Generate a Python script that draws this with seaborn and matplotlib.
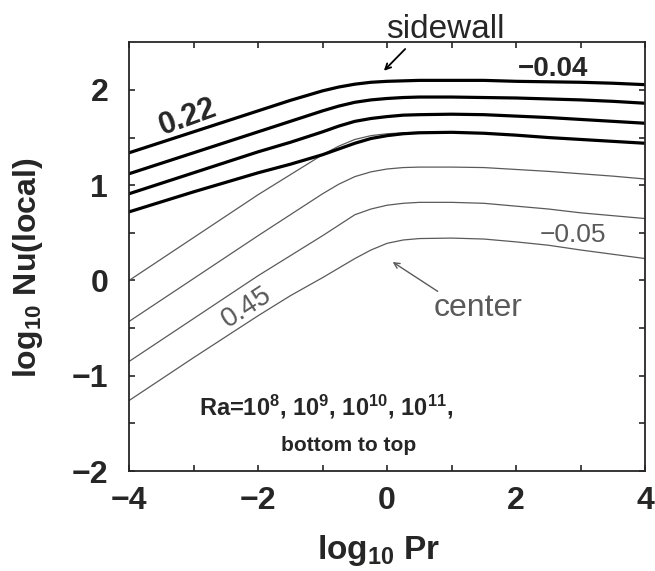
import numpy as np
import pandas as pd
import seaborn as sns
import matplotlib
matplotlib.use("Agg")
import matplotlib.pyplot as plt

# log10 Pr sample points
log_pr = [-4, -3, -2, -1.5, -1, -0.75, -0.5, -0.25, 0, 0.25, 0.5, 1, 1.5, 2, 2.5, 3, 3.5, 4]

# sidewall Nu, Ra = 1e8 .. 1e11 (bottom to top)
side_1e8 = [0.72, 0.93, 1.13, 1.22, 1.32, 1.38, 1.44, 1.49, 1.52, 1.54, 1.55, 1.555, 1.545, 1.525, 1.50, 1.48, 1.46, 1.44]
side_1e9 = [0.91, 1.13, 1.35, 1.45, 1.56, 1.62, 1.67, 1.70, 1.72, 1.735, 1.74, 1.745, 1.74, 1.725, 1.71, 1.69, 1.67, 1.65]
side_1e10 = [1.12, 1.34, 1.56, 1.67, 1.78, 1.83, 1.87, 1.895, 1.91, 1.92, 1.925, 1.925, 1.92, 1.915, 1.905, 1.895, 1.88, 1.86]
side_1e11 = [1.34, 1.56, 1.78, 1.89, 1.99, 2.03, 2.06, 2.08, 2.09, 2.095, 2.10, 2.10, 2.10, 2.09, 2.085, 2.08, 2.07, 2.055]

# center Nu
cent_1e8 = [-1.26, -0.81, -0.37, -0.16, 0.03, 0.13, 0.23, 0.32, 0.39, 0.425, 0.44, 0.445, 0.435, 0.405, 0.37, 0.32, 0.275, 0.23]
cent_1e9 = [-0.85, -0.40, 0.05, 0.26, 0.47, 0.58, 0.69, 0.75, 0.79, 0.81, 0.82, 0.82, 0.81, 0.78, 0.75, 0.71, 0.68, 0.65]
cent_1e10 = [-0.43, 0.02, 0.47, 0.69, 0.91, 1.01, 1.09, 1.14, 1.17, 1.185, 1.19, 1.19, 1.185, 1.165, 1.145, 1.12, 1.095, 1.065]
cent_1e11 = [0.0, 0.45, 0.90, 1.11, 1.32, 1.41, 1.48, 1.52, 1.54, 1.55, 1.555, 1.555, 1.545, 1.525, 1.50, 1.48, 1.46, 1.44]

xtick_vals = [-4, -3, -2, -1, 0, 1, 2, 3, 4]
xtick_labels = ['\u22124', '', '\u22122', '', '0', '', '2', '', '4']
ytick_vals = [-2, -1.5, -1, -0.5, 0, 0.5, 1, 1.5, 2]
ytick_labels = ['\u22122', '', '\u22121', '', '0', '', '1', '', '2']

sns.set_style("ticks")
plt.rcParams['font.family'] = ['Liberation Sans', 'DejaVu Sans']
plt.rcParams['mathtext.fontset'] = 'custom'
plt.rcParams['mathtext.rm'] = 'Liberation Sans'
plt.rcParams['mathtext.bf'] = 'Liberation Sans:bold'
plt.rcParams['mathtext.default'] = 'bf'

fig = plt.figure(figsize=(6.55, 5.71), dpi=100)
ax = fig.add_axes([0.197, 0.175, 0.788, 0.751])

gray = '#5a5a5a'
for ys in [cent_1e8, cent_1e9, cent_1e10, cent_1e11]:
    sns.lineplot(x=log_pr, y=ys, color=gray, lw=0.9, ax=ax)
for ys in [side_1e8, side_1e9, side_1e10, side_1e11]:
    sns.lineplot(x=log_pr, y=ys, color='black', lw=2.3, ax=ax)

ax.set_xlim(-4, 4)
ax.set_ylim(-2, 2.5)
ax.set_xticks(xtick_vals)
ax.set_xticklabels(xtick_labels, fontsize=23, fontweight='bold')
ax.set_yticks(ytick_vals)
ax.set_yticklabels(ytick_labels, fontsize=23, fontweight='bold')
ax.tick_params(direction='in', length=4, width=1.2, top=True, right=True)
ax.tick_params(axis='x', pad=11)
ax.tick_params(axis='y', pad=15)
for s in ax.spines.values():
    s.set_linewidth(1.3)
    s.set_visible(True)

ax.set_xlabel(r'log$_{10}$ Pr', fontsize=24, fontweight='bold')
ax.xaxis.label.set_verticalalignment('center')
ax.xaxis.set_label_coords(0.484, -0.186)
ax.set_ylabel(r'log$_{10}$ Nu(local)', fontsize=23, fontweight='bold')
ax.yaxis.label.set_verticalalignment('center')
ax.yaxis.set_label_coords(-0.196, 0.473)

ax.text(-3.09, 1.71, '0.22', fontsize=22, fontweight='bold', rotation=20,
        ha='center', va='center')
ax.text(2.57, 2.15, '\u22120.04', fontsize=20, fontweight='bold', ha='center', va='baseline')
ax.text(-2.17, -0.28, '0.45', fontsize=20, color=gray, rotation=33,
        ha='center', va='center')
ax.text(2.88, 0.40, '\u22120.05', fontsize=19, color=gray, ha='center', va='baseline')

ax.text(0.9, 2.545, 'sidewall', fontsize=24, ha='center', va='baseline', clip_on=False)
ax.annotate('', xy=(-0.08, 2.18), xytext=(0.31, 2.45), annotation_clip=False,
            arrowprops=dict(arrowstyle='->', color='black', lw=1.3))
ax.text(1.41, -0.29, 'center', fontsize=23, color=gray, ha='center', va='center')
ax.annotate('', xy=(0.05, 0.21), xytext=(0.82, -0.13),
            arrowprops=dict(arrowstyle='->', color=gray, lw=1.0))

ax.text(-0.95, -1.33, r'Ra=10$^8$, 10$^9$, 10$^{10}$, 10$^{11}$,', fontsize=17,
        fontweight='bold', ha='center', va='center')
ax.text(-0.59, -1.73, 'bottom to top', fontsize=15, fontweight='bold',
        ha='center', va='center')

fig.savefig('out.png', dpi=100)
